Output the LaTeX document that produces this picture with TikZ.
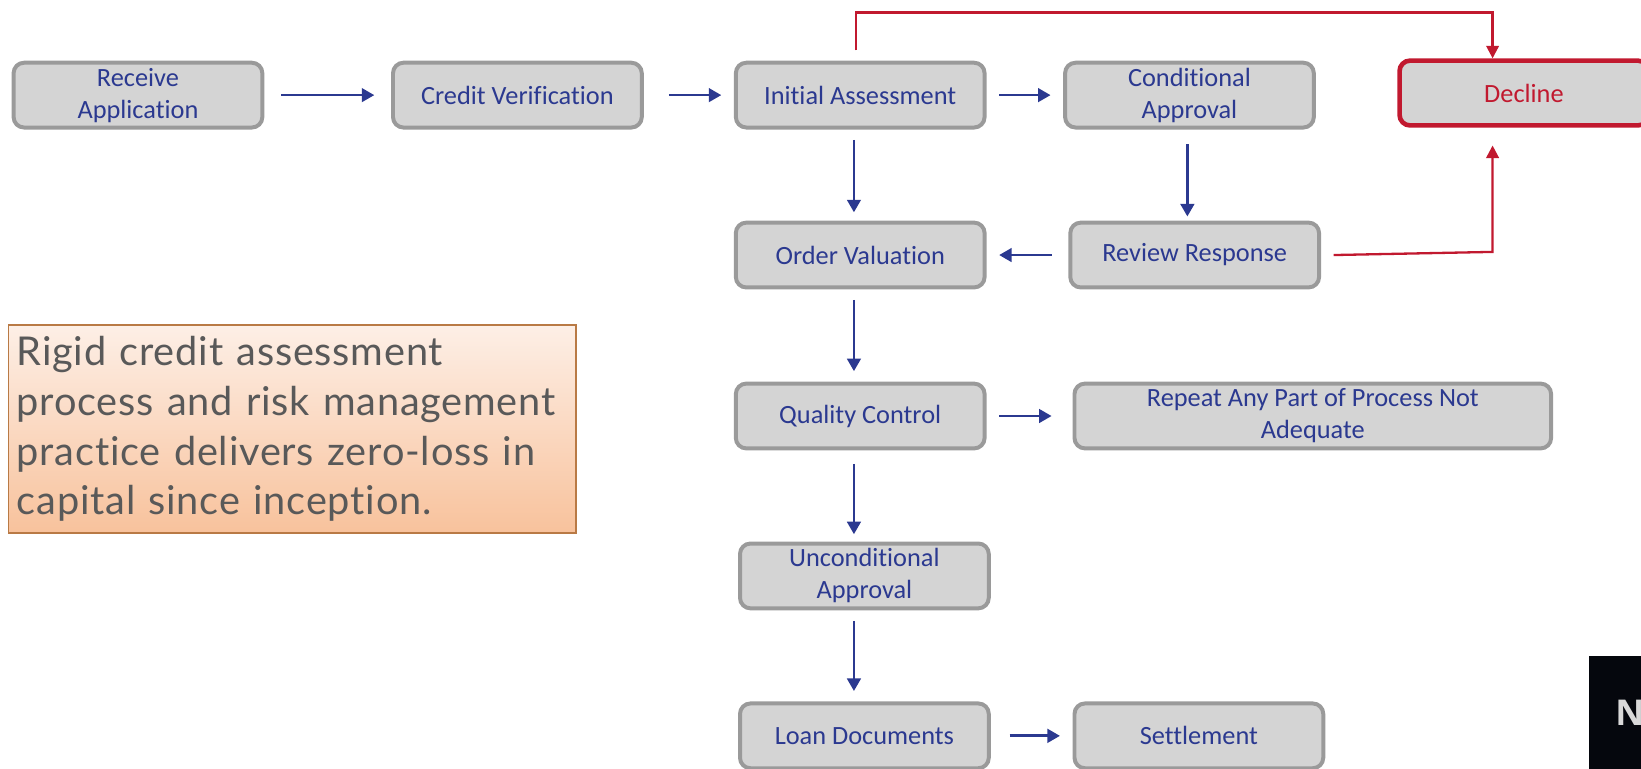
\documentclass[tikz,border=0pt]{standalone}
\usepackage{fontspec}
\setmainfont{Carlito}[Ligatures=NoCommon]
\newfontfamily\notefont{Lato}[Ligatures=NoCommon, LetterSpace=2]
\newfontfamily\tagfont{Open Sans}
\usepackage{xcolor}
\usetikzlibrary{arrows.meta,calc}
\definecolor{flowblue}{HTML}{2B3990}
\definecolor{boxgray}{HTML}{D4D4D4}
\definecolor{edgegray}{HTML}{9A9A9A}
\definecolor{declinered}{HTML}{C1192F}
\definecolor{notebrown}{HTML}{B97A45}
\definecolor{notetop}{HTML}{FDEFE6}
\definecolor{notebot}{HTML}{F8C29C}
\definecolor{notetext}{HTML}{595959}
\definecolor{panelblack}{HTML}{05070D}
\newcommand{\stageW}{119pt}
\newcommand{\stageH}{31pt}
\tikzstyle{stage}=[draw=edgegray, fill=boxgray, line width=1.9pt, rounded corners=5pt, minimum width=\stageW, minimum height=\stageH, inner sep=0pt, align=center, text=flowblue, font=\fontsize{12.6}{15.3}\selectfont]
\tikzstyle{declinebox}=[stage, draw=declinered, text=declinered, line width=2.2pt]
\tikzstyle{flow}=[draw=flowblue, line width=1.3pt, -{Triangle[length=6pt,width=6.5pt]}]
\tikzstyle{reject}=[draw=declinered, line width=1.1pt, -{Triangle[length=6pt,width=6pt]}]
\tikzstyle{notebox}=[draw=notebrown, line width=0.6pt, top color=notetop, bottom color=notebot, text width=263.5pt, minimum height=99.5pt, inner xsep=4pt, align=left, text=notetext, font=\notefont\fontsize{19}{23.8}\selectfont]
\begin{document}
\begin{tikzpicture}[x=0.5pt,y=-0.5pt]
\useasboundingbox (0,0) rectangle (1570,735);
\clip (0,0) rectangle (1570,735);
% top row
\node[stage] (recv) at (132,91) {Receive\\Application};
\node[stage] (cred) at (495,91) {Credit Verification};
\node[stage] (init) at (823,91) {Initial Assessment};
\node[stage] (cond) at (1138,91) {Conditional\\Approval};
\node[declinebox] (decl) at (1458,89) {Decline};
% middle column
\node[stage] (order) at (823,244) {Order Valuation};
\node[stage] (review) at (1143,244) {Review Response};
\node[stage] (qc) at (823,398) {Quality Control};
\node[stage, minimum width=228pt] (repeat) at (1256,398) {Repeat Any Part of Process Not\\Adequate};
\node[stage] (uncond) at (827,551) {Unconditional\\Approval};
\node[stage] (loan) at (827,704) {Loan Documents};
\node[stage] (settle) at (1147,704) {Settlement};
% note and corner panel
\node[notebox] (note) at (279.5,410.5) {Rigid credit assessment\\process and risk management\\practice delivers zero-loss in\\capital since inception.};
\fill[panelblack] (1520,628) rectangle (1580,740);
\node[anchor=west, inner sep=0pt, text=black!15, font=\tagfont\bfseries\fontsize{17}{17}\selectfont] (tag) at (1545,682) {N};
% blue flow
\draw[flow, shorten <=8pt, shorten >=8pt] (recv) -- (cred);
\draw[flow, shorten <=12pt, shorten >=6pt] (cred) -- (init);
\draw[flow, shorten <=6pt, shorten >=6pt] (init) -- (cond);
\draw[flow, shorten <=5pt, shorten >=4pt] ([xshift=-3pt]init.south) -- ([xshift=-3pt]order.north);
\draw[flow, shorten <=7pt, shorten >=2pt] ([xshift=-1pt]cond.south) -- ([xshift=-1pt]cond.south |- review.north);
\draw[flow, shorten <=8pt, shorten >=6pt] (review) -- (order);
\draw[flow, shorten <=5pt, shorten >=5pt] ([xshift=-3pt]order.south) -- ([xshift=-3pt]qc.north);
\draw[flow, shorten <=6pt, shorten >=10pt] (qc) -- (repeat);
\draw[flow, shorten <=6.5pt, shorten >=3.5pt] ([xshift=-3pt]qc.south) -- ([xshift=-3pt]qc.south |- uncond.north);
\draw[flow, shorten <=5pt, shorten >=5pt] ([xshift=-5pt]uncond.south) -- ([xshift=-5pt]loan.north);
\draw[flow, shorten <=9pt, shorten >=6pt] (loan) -- (settle);
% red decline paths
\coordinate (rtop) at (1428,12);
\coordinate (rbot) at (1428,241);
\draw[reject, shorten <=5pt] ([xshift=-2pt]init.north) |- (rtop) -- (rtop |- decl.north);
\draw[reject, shorten >=8.5pt] ([xshift=6pt]review.east) -- (rbot) -- (rbot |- decl.south);
\end{tikzpicture}
\end{document}
